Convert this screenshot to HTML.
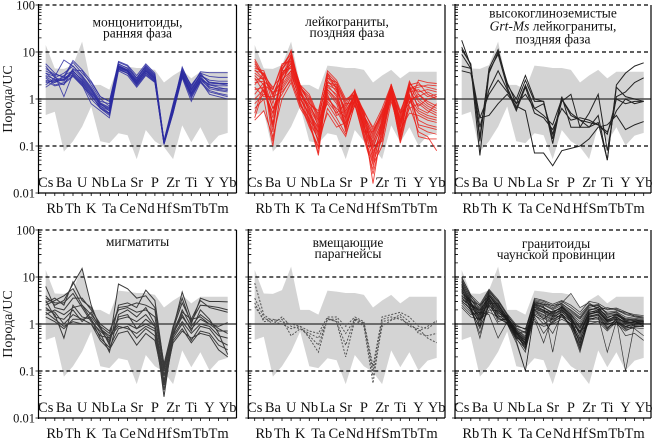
<!DOCTYPE html>
<html><head><meta charset="utf-8">
<style>
html,body{margin:0;padding:0;background:#fff;}
svg{display:block;font-family:"Liberation Serif","DejaVu Serif",serif;}
.d polyline{fill:none;vector-effect:non-scaling-stroke;}
.b polyline{stroke:#2b2ba0;stroke-width:0.9;stroke-opacity:0.85;}
.r polyline{stroke:#ea1f17;stroke-width:0.9;stroke-opacity:0.85;}
.k polyline{stroke:#222;stroke-width:1;}
.m polyline{stroke:#3a3a3a;stroke-width:1;}
.p polyline{stroke:#555;stroke-width:1;stroke-dasharray:2 1.5;}
.c polyline{stroke:#1a1a1a;stroke-width:0.7;stroke-opacity:0.85;}
.band{fill:#d4d4d4;}
.dash{stroke:#000;stroke-width:1.2;stroke-dasharray:4 3;fill:none;}
.one{stroke:#4a4a4a;stroke-width:1.6;}
.ax{stroke:#000;stroke-width:1.2;fill:none;}
.tk{stroke:#000;stroke-width:0.8;fill:none;}
.xl{font-size:14.5px;text-anchor:middle;fill:#111;}
.yl{font-size:12.5px;text-anchor:end;fill:#111;}
.tt{font-size:13.5px;text-anchor:middle;fill:#111;}
.yt{font-size:14px;text-anchor:middle;fill:#111;}
</style></head>
<body>
<svg width="652" height="440" viewBox="0 0 652 440" xmlns="http://www.w3.org/2000/svg">
<rect x="0" y="0" width="652" height="440" fill="#fff"/>
<defs>
<path id="ytk" d="M0,2.15h3M0,4.55h3M0,7.28h3M0,10.43h3M0,14.15h3M0,18.7h3M0,24.58h3M0,32.85h3M0,49.15h3M0,51.55h3M0,54.28h3M0,57.43h3M0,61.15h3M0,65.7h3M0,71.58h3M0,79.85h3M0,96.15h3M0,98.55h3M0,101.28h3M0,104.43h3M0,108.15h3M0,112.7h3M0,118.58h3M0,126.85h3M0,143.15h3M0,145.55h3M0,148.28h3M0,151.43h3M0,155.15h3M0,159.7h3M0,165.58h3M0,173.85h3M-3,0h6M-3,47h6M-3,94h6M-3,141h6M-3,188h6"/>
<path id="xtk" d="M0,0v3M9.1,0v3M18.2,0v3M27.3,0v3M36.4,0v3M45.5,0v3M54.6,0v3M63.7,0v3M72.8,0v3M81.9,0v3M91,0v3M100.1,0v3M109.2,0v3M118.3,0v3M127.4,0v3M136.5,0v3M145.6,0v3M154.7,0v3M163.8,0v3M172.9,0v3M182,0v3"/>
<polygon id="bandp" class="band" points="0,1.15 1,.65 2,.64 3,.72 4,1.22 5,.3 6,.3 7,.2 8,.71 9,.69 10,.66 11,.66 12,.62 13,.35 14,.5 15,.62 16,.44 17,.58 18,.58 19,.58 20,.58 20,-.72 19,-.78 18,-.99 17,-.6 16,-.92 15,-.56 14,-1.28 13,-1.02 12,-.9 11,-.66 10,-1.28 9,-.77 8,-.73 7,-.94 6,-.9 5,-.16 4,-.59 3,-.9 2,-1.12 1,-.27 0,-.34"/>
</defs>

<!-- ================= PANEL 1 ================= -->
<g transform="translate(45.7,99) scale(9.1,-47)"><use href="#bandp"/></g>
<line class="one" x1="38.5" y1="99" x2="236.5" y2="99"/>
<path class="dash" d="M38.5,5H236.5M38.5,52H236.5M38.5,146H236.5"/>
<g class="d b" transform="translate(45.7,99) scale(9.1,-47)">
<polyline points="0,.75 1,.55 2,.45 3,.78 4,.55 5,.35 6,.05 7,-.05 8,.8 9,.72 10,.5 11,.75 12,.55 13,-.9 14,-.15 15,.68 16,.25 17,.58 18,.56 19,.56 20,.56"/>
<polyline points="0,.55 1,.4 2,.3 3,.65 4,.45 5,.2 6,-.1 7,-.2 8,.72 9,.62 10,.38 11,.62 12,.45 13,-.92 14,-.2 15,.58 16,.18 17,.5 18,.4 19,.38 20,.38"/>
<polyline points="0,.4 1,.35 2,.5 3,.6 4,.4 5,.15 6,-.15 7,-.3 8,.68 9,.6 10,.35 11,.58 12,.4 13,-.95 14,-.25 15,.55 16,.1 17,.42 18,.3 19,.28 20,.28"/>
<polyline points="0,.3 1,.45 2,.55 3,.7 4,.5 5,.25 6,-.05 7,-.1 8,.75 9,.65 10,.42 11,.7 12,.5 13,-.88 14,-.1 15,.62 16,.22 17,.52 18,.35 19,.33 20,.33"/>
<polyline points="0,.6 1,.5 2,.05 3,.55 4,.35 5,.1 6,-.2 7,-.35 8,.65 9,.55 10,.3 11,.55 12,.38 13,-.95 14,-.3 15,.5 16,.05 17,.4 18,.25 19,.22 20,.22"/>
<polyline points="0,.45 1,.3 2,.35 3,.5 4,.3 5,-.1 6,-.25 7,-.4 8,.6 9,.5 10,.25 11,.5 12,.35 13,-.97 14,-.3 15,.45 16,-.05 17,.35 18,.15 19,.1 20,.05"/>
<polyline points="0,.7 1,.45 2,.4 3,.62 4,.6 5,.3 6,0 7,-.15 8,.78 9,.7 10,.45 11,.72 12,.52 13,-.9 14,-.18 15,.65 16,.28 17,.55 18,.48 19,.46 20,.46"/>
<polyline points="0,.35 1,.4 2,.45 3,.55 4,.35 5,.05 6,-.15 7,-.25 8,.66 9,.58 10,.35 11,.6 12,.42 13,-.93 14,-.22 15,.52 16,.12 17,.45 18,.3 19,.25 20,.2"/>
<polyline points="0,.25 1,.38 2,.42 3,.52 4,.32 5,0 6,-.2 7,-.3 8,.62 9,.55 10,.32 11,.55 12,.38 13,-.95 14,-.28 15,.48 16,.08 17,.38 18,.1 19,.05 20,0"/>
<polyline points="0,.65 1,.52 2,.48 3,.82 4,.62 5,.38 6,.05 7,-.05 8,.74 9,.66 10,.45 11,.68 12,.48 13,-.9 14,-.12 15,.6 16,.3 17,.55 18,.32 19,.32 20,.3"/>
<polyline points="0,.5 1,.42 2,.38 3,.58 4,.42 5,.18 6,-.12 7,-.22 8,.7 9,.6 10,.4 11,.64 12,.44 13,-.92 14,-.2 15,.56 16,.15 17,.48 18,.26 19,.2 20,.18"/>
<polyline points="0,.38 1,.28 2,.32 3,.48 4,.28 5,.08 6,-.18 7,-.32 8,.64 9,.54 10,.28 11,.52 12,.36 13,-.96 14,-.26 15,.47 16,.02 17,.38 18,.18 19,.12 20,.08"/>
<polyline points="0,.55 1,.48 2,.83 3,.7 4,.48 5,.22 6,-.08 7,-.18 8,.7 9,.62 10,.38 11,.66 12,.46 13,-.91 14,-.18 15,.6 16,.2 17,.5 18,.36 19,.34 20,.33"/>
<polyline points="0,.48 1,.35 2,.42 3,.6 4,.38 5,.12 6,-.1 7,-.25 8,.68 9,.58 10,.33 11,.6 12,.42 13,-.94 14,-.22 15,.52 16,.12 17,.44 18,.22 19,.18 20,.15"/>
</g>

<!-- ================= PANEL 2 ================= -->
<g transform="translate(254.7,99) scale(9.1,-47)"><use href="#bandp"/></g>
<line class="one" x1="248.3" y1="99" x2="445" y2="99"/>
<path class="dash" d="M248.3,5H445M248.3,52H445M248.3,146H445"/>
<g class="d r" transform="translate(254.7,99) scale(9.1,-47)">
<polyline points="0,.8 1,.45 2,-.9 3,.3 4,.95 5,.2 6,-.45 7,-1.15 8,.55 9,.2 10,-.7 11,.15 12,-.3 13,-1.2 14,-.6 15,.3 16,-.85 17,.3 18,-.6 19,-.7 20,-.75"/>
<polyline points="0,.3 1,.55 2,.2 3,.7 4,1 5,.1 6,-.2 7,-.55 8,.1 9,-.35 10,-.25 11,.05 12,-.7 13,-.7 14,-.25 15,.1 16,-.3 17,-.1 18,.4 19,.35 20,.33"/>
<polyline points="0,-.4 1,.2 2,-.3 3,.5 4,.7 5,.25 6,.05 7,-.4 8,.45 9,.35 10,-.05 11,.18 12,-.4 13,-1 14,-.9 15,.25 16,-.6 17,.35 18,.1 19,-.1 20,-.2"/>
<polyline points="0,.65 1,.6 2,.1 3,.4 4,.6 5,-.1 6,-.6 7,-1 8,-.2 9,-.5 10,-.8 11,-.1 12,-.85 13,-1.5 14,-.4 15,.05 16,-.9 17,-.05 18,-.3 19,-.4 20,-.45"/>
<polyline points="0,.1 1,.35 2,-.6 3,.65 4,.9 5,.3 6,-.1 7,-.3 8,.6 9,.4 10,0 11,.1 12,-.25 13,-.65 14,-.3 15,.3 16,-.25 17,.2 18,.25 19,.3 20,.28"/>
<polyline points="0,.5 1,.3 2,.15 3,.2 4,.5 5,0 6,-.35 7,-.8 8,.3 9,.05 10,-.55 11,0 12,-.55 13,-1.3 14,-.7 15,.15 16,-.75 17,.1 18,-.8 19,-.85 20,-.85"/>
<polyline points="0,-.2 1,0 2,-1 3,.35 4,.8 5,.15 6,-.25 7,-.65 8,0 9,-.2 10,-.4 11,.15 12,-.6 13,-.9 14,-.5 15,.28 16,-.45 17,0 18,.05 19,.15 20,.05"/>
<polyline points="0,.75 1,.5 2,.05 3,.6 4,1.04 5,.2 6,-.3 7,-.7 8,.2 9,0 10,-.6 11,-.05 12,-.45 13,-1.1 14,-.8 15,.2 16,-.8 17,.25 18,-.2 19,-.3 20,-.1"/>
<polyline points="0,.2 1,.25 2,-.4 3,.55 4,.75 5,.05 6,-.5 7,-1.2 8,.35 9,.25 10,-.3 11,.05 12,-.35 13,-.8 14,-.35 15,.18 16,-.5 17,.05 18,-.45 19,-.55 20,-.6"/>
<polyline points="0,.55 1,.4 2,-.2 3,.1 4,.45 5,-.15 6,-.4 7,-.9 8,.5 9,.3 10,-.15 11,.12 12,-.5 13,-1.8 14,-.6 15,.12 16,-.4 17,.3 18,.35 19,.1 20,0"/>
<polyline points="0,-.1 1,.1 2,0 3,.45 4,.85 5,.25 6,0 7,-.45 8,-.1 9,-.4 10,-.75 11,-.12 12,-.8 13,-1.4 14,-1 15,-.05 16,-.7 17,-.2 18,-.1 19,-.25 20,-.35"/>
<polyline points="0,.4 1,.45 2,-.7 3,.6 4,.65 5,.1 6,-.15 7,-.5 8,.25 9,.1 10,-.45 11,.08 12,-.3 13,-.95 14,-.45 15,.22 16,-.6 17,.15 18,.2 19,.05 20,.1"/>
<polyline points="0,.85 1,.5 2,.25 3,.5 4,.9 5,.3 6,.1 7,-.35 8,.4 9,.15 10,-.2 11,.2 12,-.65 13,-1.25 14,-.55 15,.32 16,-.35 17,.38 18,0 19,-.15 20,-.25"/>
<polyline points="0,0 1,.2 2,-.5 3,.25 4,.55 5,-.05 6,-.55 7,-1.05 8,.15 9,-.1 10,-.65 11,-.02 12,-.7 13,-1.6 14,-.75 15,.08 16,-.94 17,-.15 18,-.7 19,-.8 20,-1.1"/>
<polyline points="0,.6 1,.55 2,-.1 3,.7 4,.95 5,.22 6,-.05 7,-.6 8,.35 9,.3 10,-.35 11,.1 12,-.4 13,-.75 14,-.3 15,.25 16,-.55 17,.22 18,.3 19,.25 20,.2"/>
<polyline points="0,-.45 1,-.25 2,-.8 3,0 4,.35 5,-.2 6,-.5 7,-.85 8,-.3 9,-.6 10,-.5 11,-.15 12,-.55 13,-1.15 14,-.65 15,0 16,-.65 17,-.3 18,-.35 19,-.45 20,-.5"/>
<polyline points="0,.35 1,.38 2,.2 3,.75 4,.8 5,.28 6,-.1 7,-.25 8,.55 9,.35 10,-.1 11,.18 12,-.28 13,-.6 14,-.2 15,.3 16,-.3 17,.32 18,.15 19,.2 20,.15"/>
<polyline points="0,.45 1,.15 2,-.3 3,.4 4,.7 5,0 6,-.3 7,-.75 8,.05 9,-.25 10,-.6 11,0 12,-.6 13,-1.05 14,-.5 15,.15 16,-.7 17,.1 18,-.55 19,-.6 20,-.65"/>
<polyline points="0,.7 1,.5 2,.1 3,.55 4,.75 5,.12 6,-.2 7,-.95 8,.3 9,.2 10,-.25 11,.1 12,-.45 13,-.85 14,-.4 15,.2 16,-.45 17,.2 18,-.15 19,0 20,.05"/>
<polyline points="0,-.3 1,.3 2,-.2 3,.3 4,.6 5,.05 6,-.35 7,-.6 8,.2 9,-.05 10,-.5 11,.02 12,-.5 13,-1 14,-.55 15,.1 16,-.6 17,.05 18,-.25 19,-.35 20,-.4"/>
<polyline points="0,.25 1,.05 2,.05 3,.15 4,.4 5,-.1 6,-.45 7,-.7 8,-.05 9,-.3 10,-.1 11,-.08 12,-.75 13,-1.35 14,-.85 15,.05 16,-.8 17,-.05 18,.1 19,-.05 20,-.15"/>
<polyline points="0,.62 1,.42 2,-.55 3,.62 4,.88 5,.18 6,-.15 7,-.45 8,.45 9,.25 10,-.4 11,.12 12,-.35 13,-.7 14,-.35 15,.25 16,-.5 17,.28 18,-.05 19,-.2 20,-.3"/>
</g>

<!-- ================= PANEL 3 ================= -->
<g transform="translate(461.7,99) scale(9.1,-47)"><use href="#bandp"/></g>
<line class="one" x1="455" y1="99" x2="651" y2="99"/>
<path class="dash" d="M455,5H651M455,52H651M455,146H651"/>
<g class="d k" transform="translate(461.7,99) scale(9.1,-47)">
<polyline points="0,1.25 1,.7 2,-1.2 3,.55 4,1 5,.35 6,-.1 7,.4 8,-.05 9,-.05 10,-.95 11,0 12,-.3 13,-.45 14,-.6 15,-.5 16,-1.3 17,.3 18,.55 19,.7 20,.77"/>
<polyline points="0,1.1 1,.72 2,-.8 3,.6 4,.95 5,.25 6,-.2 7,.3 8,-.2 9,-.1 10,-.75 11,-.05 12,.1 13,-.6 14,-.3 15,.1 16,-1.1 17,.05 18,.15 19,.35 20,.45"/>
<polyline points="0,.95 1,.65 2,-.6 3,.2 4,.6 5,.2 6,-.25 7,.25 8,-.3 9,-.4 10,-.65 11,-.2 12,-.45 13,-.4 14,-.45 15,-.55 16,-.7 17,-.25 18,0 19,-.1 20,-.05"/>
<polyline points="0,.7 1,.65 2,-.4 3,.1 4,.4 5,.15 6,-.1 7,.1 8,-.2 9,-.35 10,-.55 11,0 12,-.35 13,-.45 14,-.5 15,-.55 16,-.75 17,0 18,-.1 19,-.05 20,-.05"/>
<polyline points="0,.6 1,.55 2,-.4 3,-.35 4,-.1 5,.1 6,-.15 7,-.25 8,-1.15 9,-1.15 10,-1.42 11,-1.1 12,-1.05 13,-1 14,-.85 15,-.6 16,-.55 17,-.35 18,-.65 19,-.55 20,-.48"/>
<polyline points="0,1.05 1,.75 2,-.9 3,.65 4,1.05 5,.3 6,0 7,.5 8,0 9,-.05 10,-.85 11,.05 12,-.6 13,-.6 14,-.6 15,-.35 16,-1.3 17,.25 18,.05 19,0 20,-.05"/>
</g>

<!-- ================= PANEL 4 ================= -->
<g transform="translate(45.7,324) scale(9.1,-47)"><use href="#bandp"/></g>
<line class="one" x1="38.5" y1="324" x2="236.5" y2="324"/>
<path class="dash" d="M38.5,230H236.5M38.5,277H236.5M38.5,371H236.5"/>
<g class="d m" transform="translate(45.7,324) scale(9.1,-47)">
<polyline points="0,.6 1,.4 2,.5 3,.85 4,1.18 5,.4 6,-.1 7,-.4 8,.85 9,.75 10,.55 11,.6 12,.35 13,-.85 14,-.05 15,.55 16,0 17,.55 18,.48 19,.48 20,.47"/>
<polyline points="0,.45 1,.55 2,.4 3,.9 4,.5 5,.35 6,-.05 7,-.2 8,.35 9,.38 10,.45 11,.4 12,.3 13,-.95 14,-.1 15,.45 16,.05 17,.4 18,.38 19,.35 20,.3"/>
<polyline points="0,.8 1,.35 2,.3 3,.55 4,.55 5,.3 6,0 7,-.15 8,.3 9,.35 10,.25 11,.3 12,.15 13,-1 14,-.15 15,.25 16,.1 17,.15 18,0 19,-.05 20,.03"/>
<polyline points="0,.35 1,.2 2,-.3 3,.4 4,.15 5,.1 6,-.2 7,-.6 8,.2 9,.3 10,.15 11,.35 12,0 13,-1.1 14,-.2 15,.15 16,-.1 17,.1 18,0 19,-.15 20,-.15"/>
<polyline points="0,.3 1,.25 2,0 3,.2 4,.1 5,.15 6,-.1 7,-.25 8,0 9,0 10,-.1 11,0 12,-.1 13,-1.2 14,-.25 15,.05 16,-.2 17,0 18,-.05 19,-.25 20,-.3"/>
<polyline points="0,.25 1,.1 2,-.05 3,.05 4,0 5,0 6,-.25 7,-.3 8,-.05 9,-.1 10,-.2 11,-.05 12,-.15 13,-1.3 14,-.3 15,0 16,-.35 17,-.05 18,-.1 19,-.35 20,-.45"/>
<polyline points="0,.2 1,.3 2,.2 3,.35 4,.4 5,.1 6,-.3 7,-.5 8,-.1 9,-.05 10,-.3 11,-.1 12,-.25 13,-1.4 14,-.35 15,-.1 16,-.4 17,-.15 18,-.2 19,-.45 20,-.55"/>
<polyline points="0,.55 1,.45 2,.45 3,.65 4,.35 5,.05 6,-.15 7,-.35 8,.15 9,.2 10,-.1 11,.1 12,-.05 13,-1.55 14,-.2 15,.2 16,-.15 17,.3 18,.1 19,-.2 20,-.65"/>
<polyline points="0,.15 1,.05 2,-.1 3,.1 4,.1 5,0 6,-.35 7,-.55 8,-.2 9,-.15 10,-.45 11,-.2 12,-.35 13,-1.25 14,-.4 15,-.15 16,-.3 17,-.2 18,-.25 19,-.55 20,-.7"/>
<polyline points="0,.4 1,.5 2,.6 3,.75 4,.4 5,.2 6,-.05 7,-.45 8,.4 9,.45 10,.35 11,.72 12,.5 13,-.9 14,-.1 15,.68 16,.1 17,.5 18,.35 19,.3 20,.25"/>
<polyline points="0,.5 1,.15 2,.1 3,.3 4,.05 5,.25 6,-.1 7,-.3 8,.1 9,.15 10,.05 11,.2 12,-.05 13,-1.1 14,-.25 15,.3 16,-.05 17,.2 18,.05 19,-.1 20,-.2"/>
</g>

<!-- ================= PANEL 5 ================= -->
<g transform="translate(254.7,324) scale(9.1,-47)"><use href="#bandp"/></g>
<line class="one" x1="248.3" y1="324" x2="445" y2="324"/>
<path class="dash" d="M248.3,230H445M248.3,277H445M248.3,371H445"/>
<g class="d p" transform="translate(254.7,324) scale(9.1,-47)">
<polyline points="0,.87 1,.2 2,.05 3,0 4,-.1 5,-.05 6,-.15 7,-.2 8,.15 9,.15 10,-.05 11,.15 12,.05 13,-.9 14,.15 15,.2 16,.25 17,.15 18,-.05 19,-.1 20,.05"/>
<polyline points="0,.55 1,.15 2,0 3,.15 4,-.05 5,-.1 6,-.2 7,-.3 8,.1 9,.1 10,-.2 11,.1 12,0 13,-1 14,.1 15,.15 16,.1 17,0 18,-.15 19,-.05 20,.07"/>
<polyline points="0,.37 1,.1 2,.1 3,.05 4,0 5,-.05 6,-.3 7,-.6 8,.12 9,.05 10,-.7 11,.08 12,-.05 13,-1.26 14,.05 15,.1 16,.2 17,.05 18,-.2 19,-.25 20,-.2"/>
<polyline points="0,.45 1,.05 2,.08 3,.1 4,-.25 5,-.1 6,-.25 7,-.45 8,.1 9,.05 10,-.45 11,.12 12,.02 13,-1.1 14,-.05 15,.08 16,.15 17,-.05 18,-.1 19,-.3 20,-.4"/>
</g>

<!-- ================= PANEL 6 ================= -->
<g transform="translate(461.7,324) scale(9.1,-47)"><use href="#bandp"/></g>
<line class="one" x1="455" y1="324" x2="651" y2="324"/>
<path class="dash" d="M455,230H651M455,277H651M455,371H651"/>
<g class="d c" transform="translate(461.7,324) scale(9.1,-47)">
<polyline points="0,1 1,.6 2,.3 3,.7 4,.45 5,.15 6,-.1 7,-.2 8,.5 9,.45 10,.35 11,.45 12,.65 13,.35 14,.45 15,.3 16,.35 17,.3 18,.2 19,.15 20,.12"/>
<polyline points="0,.95 1,.55 2,.25 3,.65 4,.4 5,.12 6,-.15 7,-.3 8,.45 9,.4 10,.3 11,.4 12,.25 13,.1 14,.35 15,.4 16,.2 17,.25 18,.1 19,.1 20,.08"/>
<polyline points="0,.9 1,.5 2,.4 3,.6 4,.35 5,.1 6,-.2 7,-.4 8,.4 9,.35 10,.25 11,.35 12,.2 13,0 14,.3 15,.35 16,.15 17,.2 18,.05 19,.08 20,.05"/>
<polyline points="0,.85 1,.45 2,.2 3,.55 4,.3 5,.08 6,-.25 7,-.5 8,.38 9,.3 10,.2 11,.3 12,.15 13,-.1 14,.25 15,.3 16,.1 17,.15 18,0 19,.05 20,.02"/>
<polyline points="0,.8 1,.4 2,.1 3,.5 4,.25 5,.05 6,-.3 7,-.6 8,.35 9,.25 10,.15 11,.25 12,.1 13,-.2 14,.2 15,.25 16,.05 17,.1 18,-.05 19,0 20,0"/>
<polyline points="0,.75 1,.35 2,0 3,.45 4,.2 5,.02 6,-.35 7,-1 8,.3 9,.2 10,.1 11,.2 12,.05 13,-.3 14,.15 15,.2 16,0 17,.05 18,-.1 19,-.02 20,-.03"/>
<polyline points="0,.7 1,.3 2,-.2 3,.4 4,.15 5,0 6,-.4 7,-1 8,.25 9,.15 10,.05 11,.15 12,0 13,-.4 14,.1 15,.15 16,-.05 17,0 18,-.15 19,-.05 20,-.05"/>
<polyline points="0,.65 1,.5 2,.35 3,.68 4,.5 5,.18 6,-.05 7,-.1 8,.48 9,.42 10,.4 11,.42 12,.3 13,.15 14,.4 15,.35 16,.25 17,.28 18,.25 19,.2 20,.18"/>
<polyline points="0,.6 1,.45 2,.15 3,.62 4,.38 5,.15 6,-.12 7,-.25 8,.42 9,.38 10,-.6 11,.38 12,.22 13,.05 14,.32 15,.32 16,.18 17,.22 18,.12 19,.1 20,.05"/>
<polyline points="0,.55 1,.38 2,.28 3,.58 4,.1 5,.1 6,-.2 7,-.35 8,.3 9,.1 10,.28 11,.32 12,.12 13,-.45 14,.22 15,.25 16,.08 17,.18 18,.08 19,.05 20,-.05"/>
<polyline points="0,.5 1,.3 2,.05 3,.5 4,.05 5,.12 6,-.28 7,-.45 8,.2 9,0 10,.12 11,.28 12,.05 13,-.55 14,.18 15,.2 16,-.1 17,.12 18,-1 19,0 20,0"/>
<polyline points="0,.45 1,.25 2,-.05 3,.3 4,.28 5,.15 6,-.18 7,-.55 8,.15 9,-.2 10,.05 11,.22 12,-.05 13,-.6 14,.12 15,.1 16,-.12 17,.1 18,.05 19,.02 20,0"/>
<polyline points="0,.4 1,.2 2,.25 3,.2 4,-.3 5,.05 6,-.22 7,-.15 8,.1 9,-.4 10,.18 11,.15 12,0 13,-.35 14,.05 15,.05 16,-.15 17,.05 18,-.25 19,-.2 20,-.35"/>
<polyline points="0,.92 1,.58 2,.38 3,.72 4,.48 5,.2 6,-.08 7,-.18 8,.52 9,.48 10,.38 11,.48 12,.35 13,.2 14,.42 15,.38 16,.3 17,.32 18,.22 19,.18 20,.15"/>
<polyline points="0,.88 1,.52 2,.22 3,.66 4,.42 5,.14 6,-.12 7,-.28 8,.46 9,.42 10,.32 11,.44 12,.28 13,.12 14,.38 15,.42 16,.22 17,.26 18,.15 19,.12 20,.1"/>
<polyline points="0,.82 1,.48 2,-.05 3,.62 4,.36 5,.1 6,-.18 7,-.36 8,.44 9,.36 10,.22 11,.38 12,.18 13,-.05 14,.28 15,.36 16,.12 17,.22 18,.08 19,.06 20,.04"/>
<polyline points="0,.78 1,.44 2,.12 3,.56 4,.32 5,.08 6,-.22 7,-.42 8,.4 9,.3 10,.18 11,.34 12,.14 13,-.15 14,.24 15,.3 16,.08 17,.16 18,.02 19,.04 20,.02"/>
<polyline points="0,.72 1,.42 2,.32 3,.54 4,.22 5,.16 6,-.14 7,-.32 8,.36 9,.28 10,.26 11,.36 12,.16 13,-.25 14,.2 15,.28 16,.06 17,.2 18,.06 19,.06 20,.06"/>
<polyline points="0,.68 1,.36 2,-.3 3,.48 4,.18 5,.06 6,-.24 7,-.48 8,.32 9,.24 10,.12 11,.26 12,.08 13,-.32 14,.16 15,.22 16,.02 17,.12 18,-.02 19,-.03 20,-.02"/>
<polyline points="0,.62 1,.34 2,.18 3,.44 4,.44 5,.04 6,-.3 7,-.38 8,.28 9,.18 10,.08 11,.22 12,.04 13,-.4 14,.14 15,.18 16,-.02 17,.08 18,-.06 19,0 20,.01"/>
<polyline points="0,.58 1,.28 2,.08 3,.36 4,0 5,0 6,-.32 7,-.52 8,.22 9,.12 10,.02 11,.18 12,-.02 13,-.48 14,.08 15,.12 16,-.08 17,.04 18,-.12 19,-.08 20,-.1"/>
<polyline points="0,.52 1,.4 2,.3 3,.38 4,.25 5,.08 6,-.16 7,-.4 8,.32 9,.26 10,.22 11,.3 12,.1 13,-.2 14,.26 15,.26 16,.04 17,.14 18,.04 19,0 20,.03"/>
<polyline points="0,.48 1,.32 2,-.1 3,.42 4,.12 5,.02 6,-.26 7,-.44 8,.18 9,.08 10,-.2 11,.2 12,-.08 13,-.52 14,.1 15,.15 16,-.6 17,.06 18,-.08 19,-.06 20,-.05"/>
<polyline points="0,.98 1,.62 2,.42 3,.74 4,.52 5,.22 6,-.02 7,-.12 8,.55 9,.5 10,.42 11,.5 12,.4 13,.25 14,.48 15,.44 16,.32 17,.34 18,.26 19,.16 20,.14"/>
<polyline points="0,.84 1,.46 2,.2 3,.6 4,.34 5,.12 6,-.16 7,-.34 8,.42 9,.34 10,.24 11,.36 12,.2 13,-.08 14,.3 15,.32 16,.14 17,.2 18,.1 19,.08 20,.07"/>
<polyline points="0,.74 1,.4 2,.08 3,.52 4,.28 5,.1 6,-.2 7,-.42 8,.36 9,.28 10,.16 11,.3 12,.12 13,-.18 14,.22 15,.26 16,.06 17,.14 18,.02 19,.04 20,0"/>
<polyline points="0,.35 1,.15 2,.1 3,.25 4,.15 5,.18 6,-.05 7,-.1 8,.05 9,-.05 10,0 11,.1 12,0 13,-.15 14,0 15,.05 16,0 17,.05 18,-.05 19,-.1 20,-.25"/>
</g>

<!-- ================= FRAMES, TICKS ================= -->
<g>
<path class="ax" d="M38.5,4V194M38.5,193H236.5M236.5,5V193"/>
<path class="ax" d="M248.3,4V194M248.3,193H445M445,5V193"/>
<path class="ax" d="M455,4V194M455,193H651M651,5V193"/>
<path class="ax" d="M38.5,229V419M38.5,418H236.5M236.5,230V418"/>
<path class="ax" d="M248.3,229V419M248.3,418H445M445,230V418"/>
<path class="ax" d="M455,229V419M455,418H651M651,230V418"/>
<use href="#ytk" x="38.5" y="5" class="tk"/>
<use href="#ytk" x="248.3" y="5" class="tk"/>
<use href="#ytk" x="455" y="5" class="tk"/>
<use href="#ytk" x="38.5" y="230" class="tk"/>
<use href="#ytk" x="248.3" y="230" class="tk"/>
<use href="#ytk" x="455" y="230" class="tk"/>
<use href="#xtk" x="45.7" y="193" class="tk"/>
<use href="#xtk" x="254.7" y="193" class="tk"/>
<use href="#xtk" x="461.7" y="193" class="tk"/>
<use href="#xtk" x="45.7" y="418" class="tk"/>
<use href="#xtk" x="254.7" y="418" class="tk"/>
<use href="#xtk" x="461.7" y="418" class="tk"/>
</g>

<!-- ================= Y LABELS ================= -->
<g class="yl">
<text x="35" y="9.5">100</text><text x="35" y="56.5">10</text><text x="35" y="103.5">1</text><text x="35" y="150.5">0.1</text><text x="35" y="197.5">0.01</text>
<text x="35" y="234.5">100</text><text x="35" y="281.5">10</text><text x="35" y="328.5">1</text><text x="35" y="375.5">0.1</text><text x="35" y="422.5">0.01</text>
</g>
<text class="yt" transform="translate(12,99) rotate(-90)">Порода/UC</text>
<text class="yt" transform="translate(12,324) rotate(-90)">Порода/UC</text>

<!-- ================= X LABELS ================= -->
<g class="xl" transform="translate(45.7,193)">
<text x="0" y="-6">Cs</text><text x="18.2" y="-6">Ba</text><text x="36.4" y="-6">U</text><text x="54.6" y="-6">Nb</text><text x="72.8" y="-6">La</text><text x="91" y="-6">Sr</text><text x="109.2" y="-6">P</text><text x="127.4" y="-6">Zr</text><text x="145.6" y="-6">Ti</text><text x="163.8" y="-6">Y</text><text x="182" y="-6">Yb</text>
<text x="9.1" y="20">Rb</text><text x="27.3" y="20">Th</text><text x="45.5" y="20">K</text><text x="63.7" y="20">Ta</text><text x="81.9" y="20">Ce</text><text x="100.1" y="20">Nd</text><text x="118.3" y="20">Hf</text><text x="136.5" y="20">Sm</text><text x="154.7" y="20">Tb</text><text x="172.9" y="20">Tm</text>
</g>
<g class="xl" transform="translate(254.7,193)">
<text x="0" y="-6">Cs</text><text x="18.2" y="-6">Ba</text><text x="36.4" y="-6">U</text><text x="54.6" y="-6">Nb</text><text x="72.8" y="-6">La</text><text x="91" y="-6">Sr</text><text x="109.2" y="-6">P</text><text x="127.4" y="-6">Zr</text><text x="145.6" y="-6">Ti</text><text x="163.8" y="-6">Y</text><text x="182" y="-6">Yb</text>
<text x="9.1" y="20">Rb</text><text x="27.3" y="20">Th</text><text x="45.5" y="20">K</text><text x="63.7" y="20">Ta</text><text x="81.9" y="20">Ce</text><text x="100.1" y="20">Nd</text><text x="118.3" y="20">Hf</text><text x="136.5" y="20">Sm</text><text x="154.7" y="20">Tb</text><text x="172.9" y="20">Tm</text>
</g>
<g class="xl" transform="translate(461.7,193)">
<text x="0" y="-6">Cs</text><text x="18.2" y="-6">Ba</text><text x="36.4" y="-6">U</text><text x="54.6" y="-6">Nb</text><text x="72.8" y="-6">La</text><text x="91" y="-6">Sr</text><text x="109.2" y="-6">P</text><text x="127.4" y="-6">Zr</text><text x="145.6" y="-6">Ti</text><text x="163.8" y="-6">Y</text><text x="182" y="-6">Yb</text>
<text x="9.1" y="20">Rb</text><text x="27.3" y="20">Th</text><text x="45.5" y="20">K</text><text x="63.7" y="20">Ta</text><text x="81.9" y="20">Ce</text><text x="100.1" y="20">Nd</text><text x="118.3" y="20">Hf</text><text x="136.5" y="20">Sm</text><text x="154.7" y="20">Tb</text><text x="172.9" y="20">Tm</text>
</g>
<g class="xl" transform="translate(45.7,418)">
<text x="0" y="-6">Cs</text><text x="18.2" y="-6">Ba</text><text x="36.4" y="-6">U</text><text x="54.6" y="-6">Nb</text><text x="72.8" y="-6">La</text><text x="91" y="-6">Sr</text><text x="109.2" y="-6">P</text><text x="127.4" y="-6">Zr</text><text x="145.6" y="-6">Ti</text><text x="163.8" y="-6">Y</text><text x="182" y="-6">Yb</text>
<text x="9.1" y="20">Rb</text><text x="27.3" y="20">Th</text><text x="45.5" y="20">K</text><text x="63.7" y="20">Ta</text><text x="81.9" y="20">Ce</text><text x="100.1" y="20">Nd</text><text x="118.3" y="20">Hf</text><text x="136.5" y="20">Sm</text><text x="154.7" y="20">Tb</text><text x="172.9" y="20">Tm</text>
</g>
<g class="xl" transform="translate(254.7,418)">
<text x="0" y="-6">Cs</text><text x="18.2" y="-6">Ba</text><text x="36.4" y="-6">U</text><text x="54.6" y="-6">Nb</text><text x="72.8" y="-6">La</text><text x="91" y="-6">Sr</text><text x="109.2" y="-6">P</text><text x="127.4" y="-6">Zr</text><text x="145.6" y="-6">Ti</text><text x="163.8" y="-6">Y</text><text x="182" y="-6">Yb</text>
<text x="9.1" y="20">Rb</text><text x="27.3" y="20">Th</text><text x="45.5" y="20">K</text><text x="63.7" y="20">Ta</text><text x="81.9" y="20">Ce</text><text x="100.1" y="20">Nd</text><text x="118.3" y="20">Hf</text><text x="136.5" y="20">Sm</text><text x="154.7" y="20">Tb</text><text x="172.9" y="20">Tm</text>
</g>
<g class="xl" transform="translate(461.7,418)">
<text x="0" y="-6">Cs</text><text x="18.2" y="-6">Ba</text><text x="36.4" y="-6">U</text><text x="54.6" y="-6">Nb</text><text x="72.8" y="-6">La</text><text x="91" y="-6">Sr</text><text x="109.2" y="-6">P</text><text x="127.4" y="-6">Zr</text><text x="145.6" y="-6">Ti</text><text x="163.8" y="-6">Y</text><text x="182" y="-6">Yb</text>
<text x="9.1" y="20">Rb</text><text x="27.3" y="20">Th</text><text x="45.5" y="20">K</text><text x="63.7" y="20">Ta</text><text x="81.9" y="20">Ce</text><text x="100.1" y="20">Nd</text><text x="118.3" y="20">Hf</text><text x="136.5" y="20">Sm</text><text x="154.7" y="20">Tb</text><text x="172.9" y="20">Tm</text>
</g>

<!-- ================= TITLES ================= -->
<g class="tt">
<text x="137.5" y="26.5">монцонитоиды,</text>
<text x="137.5" y="37.5">ранняя фаза</text>
<text x="347" y="26">лейкограниты,</text>
<text x="347" y="37">поздняя фаза</text>
<text x="553" y="17.5">высокоглиноземистые</text>
<text x="553" y="30.5"><tspan font-style="italic">Grt-Ms</tspan> лейкограниты,</text>
<text x="553" y="43.5">поздняя фаза</text>
<text x="137.5" y="246">мигматиты</text>
<text x="348" y="247">вмещающие</text>
<text x="348" y="258">парагнейсы</text>
<text x="556" y="248">гранитоиды</text>
<text x="556" y="259">чаунской провинции</text>
</g>
</svg>
</body></html>
